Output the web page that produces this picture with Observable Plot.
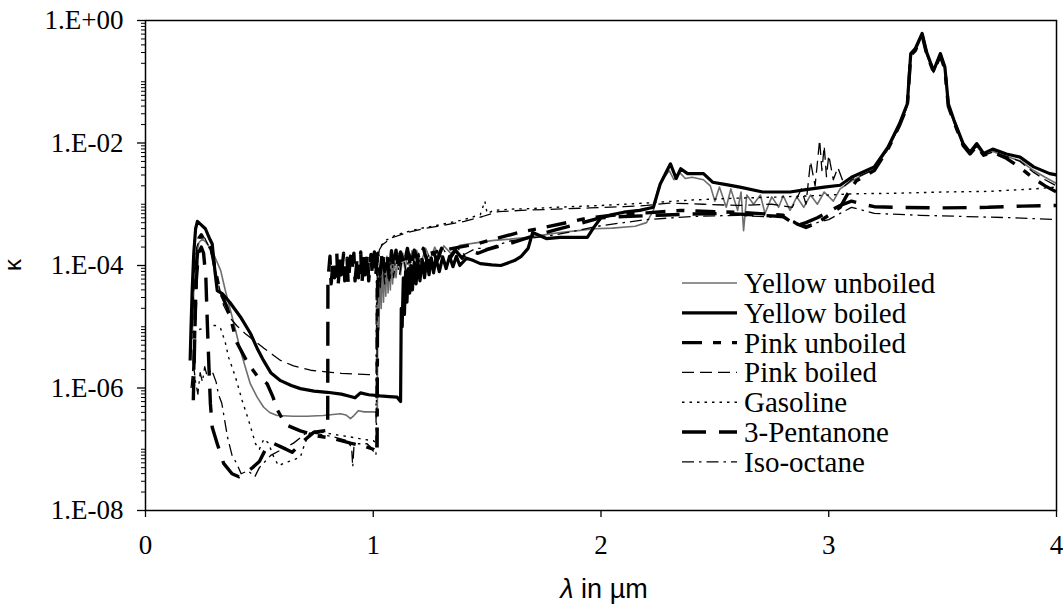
<!DOCTYPE html>
<html>
<head>
<meta charset="utf-8">
<script src="https://cdn.jsdelivr.net/npm/d3@7"></script>
<script src="https://cdn.jsdelivr.net/npm/@observablehq/plot@0.6"></script>
<style>
  body { margin: 0; background: #fff; }
  #chart { width: 1063px; height: 607px; }
</style>
</head>
<body>
<div id="chart"></div>
<script>
// Absorption index κ versus wavelength λ (µm); each pair is [λ, log10 κ].
const yellowUnboiled = [
  [0.205,-5.2],[0.212,-4.4],[0.222,-3.85],[0.235,-3.62],[0.25,-3.57],[0.265,-3.62],[0.285,-3.72],[0.30,-3.82],
  [0.33,-4.08],[0.35,-4.4],[0.373,-4.73],[0.395,-5.05],[0.417,-5.39],[0.44,-5.68],[0.46,-5.93],[0.49,-6.15],
  [0.518,-6.31],[0.545,-6.4],[0.578,-6.45],[0.65,-6.46],[0.71,-6.46],[0.78,-6.45],[0.856,-6.42],[0.88,-6.44],
  [0.90,-6.50],[0.915,-6.45],[0.935,-6.37],[0.96,-6.39],[1.0,-6.39],[1.018,-6.40],
  [1.02,-4.5],[1.025,-5.05],[1.03,-4.0],[1.035,-4.7],[1.04,-3.9],[1.045,-4.6],[1.05,-3.95],[1.055,-4.5],
  [1.06,-3.85],[1.065,-4.45],[1.07,-3.9],[1.075,-4.4],[1.08,-3.8],[1.085,-4.3],[1.09,-3.85],[1.10,-4.2],
  [1.11,-3.8],[1.12,-4.15],[1.13,-3.8],[1.14,-4.1],[1.15,-3.78],[1.16,-4.05],[1.17,-3.76],[1.18,-4.0],
  [1.19,-3.75],[1.21,-3.95],[1.23,-3.72],[1.25,-3.9],[1.27,-3.7],[1.29,-3.86],[1.31,-3.68],[1.34,-3.8],
  [1.38,-3.67],[1.45,-3.63],[1.53,-3.59],[1.6,-3.57],
  [1.68,-3.54],[1.75,-3.5],[1.82,-3.46],[1.9,-3.43],[1.97,-3.40],[2.05,-3.39],[2.15,-3.36],[2.2,-3.3],
  [2.23,-3.1],[2.25,-2.75],[2.28,-2.55],[2.3,-2.45],[2.32,-2.6],[2.345,-2.48],[2.37,-2.58],[2.4,-2.56],
  [2.45,-2.6],[2.48,-2.7],[2.5,-2.95],[2.52,-2.72],[2.55,-3.05],[2.57,-2.75],[2.6,-3.1],[2.615,-2.8],
  [2.626,-3.43],[2.64,-2.85],[2.67,-3.0],[2.7,-2.85],[2.72,-3.15],[2.75,-2.88],[2.78,-3.05],[2.8,-2.86],
  [2.83,-3.1],[2.86,-2.88],[2.89,-3.05],[2.92,-2.85],[2.95,-3.0],[2.98,-2.8],[3.02,-2.95],[3.05,-2.75],
  [3.1,-2.62],[3.15,-2.52],[3.2,-2.43],[3.26,-2.1],[3.31,-1.72],[3.345,-1.4],[3.36,-0.58],[3.38,-0.5],
  [3.41,-0.25],[3.43,-0.56],[3.46,-0.85],[3.49,-0.58],[3.51,-0.8],[3.525,-1.4],[3.55,-1.66],[3.59,-2.04],
  [3.62,-2.18],[3.65,-2.05],[3.68,-2.21],[3.72,-2.14],[3.78,-2.22],[3.84,-2.29],[3.9,-2.45],[3.95,-2.56],[4.0,-2.66]
];

const yellowBoiled = [
  [0.196,-5.55],[0.2,-5.0],[0.205,-4.4],[0.212,-3.8],[0.22,-3.4],[0.228,-3.28],[0.24,-3.32],[0.263,-3.40],
  [0.28,-3.55],[0.293,-3.65],[0.305,-4.1],[0.315,-4.41],[0.337,-4.46],[0.37,-4.6],[0.417,-4.84],[0.461,-5.11],
  [0.49,-5.35],[0.518,-5.55],[0.55,-5.75],[0.593,-5.88],[0.64,-5.96],[0.68,-6.01],[0.74,-6.05],[0.798,-6.07],
  [0.86,-6.1],[0.90,-6.14],[0.92,-6.16],[0.944,-6.08],[0.98,-6.11],[1.03,-6.13],[1.07,-6.14],[1.105,-6.15],[1.12,-6.22],
  [1.123,-4.7],[1.127,-5.0],[1.132,-4.2],[1.137,-4.8],[1.142,-4.1],[1.148,-4.6],[1.154,-4.05],[1.16,-4.45],
  [1.166,-4.0],[1.172,-4.4],[1.18,-3.95],[1.188,-4.3],[1.196,-3.92],[1.205,-4.25],[1.215,-3.9],[1.225,-4.2],
  [1.235,-3.9],[1.245,-4.15],[1.255,-3.88],[1.265,-4.12],[1.275,-3.88],[1.29,-4.1],[1.305,-3.86],[1.32,-4.05],
  [1.335,-3.85],[1.35,-4.02],[1.365,-3.85],[1.38,-4.0],[1.41,-3.88],[1.44,-3.92],[1.47,-3.97],[1.52,-3.99],
  [1.56,-4.0],[1.62,-3.92],[1.65,-3.85],[1.68,-3.72],[1.70,-3.46],[1.73,-3.51],[1.76,-3.56],[1.82,-3.54],
  [1.88,-3.54],[1.94,-3.54],
  [1.97,-3.37],[2.0,-3.22],[2.05,-3.17],[2.10,-3.13],[2.17,-3.1],[2.23,-3.05],[2.26,-2.67],[2.305,-2.34],
  [2.33,-2.58],[2.35,-2.42],[2.38,-2.5],[2.45,-2.5],[2.49,-2.64],[2.55,-2.68],[2.61,-2.72],[2.71,-2.80],
  [2.83,-2.80],[2.9,-2.76],[2.98,-2.72],[3.05,-2.69],[3.10,-2.56],[3.20,-2.39],[3.26,-2.07],[3.31,-1.69],
  [3.345,-1.36],[3.36,-0.54],[3.38,-0.46],[3.41,-0.21],[3.43,-0.52],[3.46,-0.82],[3.49,-0.54],[3.51,-0.76],
  [3.525,-1.36],[3.55,-1.63],[3.59,-2.01],[3.62,-2.15],[3.65,-2.01],[3.68,-2.17],[3.72,-2.10],[3.78,-2.18],
  [3.84,-2.23],[3.90,-2.39],[3.97,-2.50],[4.0,-2.52]
];

const pinkUnboiled = [
  [0.212,-5.7],[0.218,-4.8],[0.226,-3.9],[0.235,-3.55],[0.245,-3.5],[0.26,-3.6],[0.275,-3.65],[0.29,-3.75],
  [0.305,-4.05],[0.325,-4.4],[0.358,-4.68],[0.38,-4.95],[0.40,-5.25],[0.45,-5.6],[0.49,-5.8],[0.534,-5.93],
  [0.56,-6.15],[0.578,-6.35],[0.60,-6.5],[0.622,-6.61],[0.68,-6.7],[0.75,-6.78],[0.82,-6.82],[0.9,-6.9],
  [0.96,-6.95],[1.0,-7.0],[1.017,-7.07],
  [1.019,-4.3],[1.04,-4.05],[1.08,-3.95],[1.15,-3.88],[1.25,-3.8],[1.35,-3.72],[1.45,-3.65],[1.55,-3.55],
  [1.65,-3.45],[1.75,-3.38],[1.85,-3.3],[1.95,-3.22],[2.05,-3.18],[2.2,-3.14],[2.35,-3.1],[2.5,-3.12],
  [2.65,-3.14],[2.8,-3.18],[2.86,-3.32],[2.9,-3.38],[2.95,-3.3],[3.0,-3.18],[3.05,-3.05],[3.08,-2.85],
  [3.12,-2.62],[3.2,-2.45],[3.26,-2.1],[3.31,-1.72],[3.345,-1.4],[3.36,-0.57],[3.38,-0.49],[3.41,-0.24],
  [3.43,-0.55],[3.46,-0.84],[3.49,-0.57],[3.51,-0.8],[3.525,-1.4],[3.55,-1.66],[3.59,-2.04],[3.62,-2.18],
  [3.65,-2.05],[3.68,-2.2],[3.72,-2.15],[3.78,-2.25],[3.84,-2.4],[3.9,-2.58],[3.95,-2.7],[4.0,-2.8]
];

const pinkBoiled = [
  [0.205,-5.0],[0.215,-4.1],[0.225,-3.7],[0.24,-3.55],[0.26,-3.55],[0.28,-3.7],[0.30,-3.95],[0.32,-4.3],
  [0.343,-4.65],[0.37,-4.85],[0.40,-4.98],[0.44,-5.12],[0.476,-5.22],[0.52,-5.35],[0.56,-5.46],[0.593,-5.55],
  [0.65,-5.64],[0.725,-5.71],[0.80,-5.74],[0.86,-5.76],[0.915,-5.77],[0.98,-5.78],[1.016,-5.78],
  [1.018,-3.8],[1.04,-3.66],[1.08,-3.55],[1.15,-3.46],[1.22,-3.4],[1.3,-3.35],[1.4,-3.28],[1.48,-3.2],
  [1.55,-3.12],[1.65,-3.1],[1.8,-3.08],[1.95,-3.06],[2.1,-3.04],[2.2,-3.02],[2.3,-2.98],[2.45,-3.0],
  [2.6,-3.02],[2.75,-3.0],[2.84,-3.05],[2.88,-2.75],[2.9,-3.0],[2.92,-2.3],[2.94,-2.7],[2.96,-1.95],
  [2.97,-2.45],[2.98,-2.05],[2.99,-2.55],[3.0,-2.2],[3.02,-2.6],[3.04,-2.4],[3.07,-2.7],[3.1,-2.6],
  [3.2,-2.43],[3.26,-2.1],[3.31,-1.72],[3.345,-1.4],[3.36,-0.57],[3.38,-0.49],[3.41,-0.24],[3.43,-0.55],
  [3.46,-0.84],[3.49,-0.57],[3.51,-0.8],[3.525,-1.4],[3.55,-1.66],[3.59,-2.04],[3.62,-2.18],[3.65,-2.05],
  [3.68,-2.2],[3.72,-2.15],[3.78,-2.22],[3.84,-2.3],[3.9,-2.48],[3.95,-2.6],[4.0,-2.7]
];

const gasoline = [
  [0.205,-5.09],[0.23,-5.05],[0.26,-5.02],[0.29,-4.98],[0.307,-4.98],[0.33,-5.03],[0.35,-5.25],[0.365,-5.5],
  [0.395,-5.82],[0.424,-6.2],[0.453,-6.53],[0.483,-6.91],[0.50,-7.0],[0.52,-6.83],[0.54,-6.9],[0.56,-7.1],
  [0.584,-7.27],[0.607,-7.23],[0.644,-7.18],[0.68,-7.13],[0.70,-6.9],[0.725,-6.70],[0.77,-6.72],[0.83,-6.76],
  [0.9,-6.8],[0.96,-6.84],[1.0,-6.86],[1.014,-6.9],
  [1.015,-3.95],[1.03,-3.7],[1.05,-3.6],[1.1,-3.5],[1.2,-3.4],[1.3,-3.33],[1.4,-3.25],[1.47,-3.17],
  [1.49,-2.95],[1.5,-3.15],[1.53,-3.1],[1.6,-3.08],[1.7,-3.07],[1.8,-3.05],[2.0,-3.02],[2.2,-2.98],
  [2.4,-2.93],[2.6,-2.9],[2.8,-2.88],[3.0,-2.85],[3.1,-2.83],[3.3,-2.82],[3.5,-2.8],[3.7,-2.79],
  [3.9,-2.75],[4.0,-2.72]
];

const pentanone = [
  [0.21,-6.2],[0.216,-5.2],[0.222,-4.3],[0.232,-3.8],[0.245,-3.7],[0.255,-3.8],[0.265,-4.2],[0.272,-5.0],
  [0.28,-5.8],[0.285,-6.26],[0.293,-6.64],[0.315,-6.91],[0.343,-7.23],[0.38,-7.4],[0.41,-7.45],[0.44,-7.38],
  [0.47,-7.3],[0.5,-7.2],[0.53,-6.98],[0.56,-6.9],[0.6,-6.97],[0.644,-7.05],[0.695,-6.86],[0.74,-6.72],
  [0.78,-6.7],[0.8,-6.69],
  [0.801,-4.25],[0.81,-3.85],[0.815,-4.3],[0.825,-3.9],[0.83,-4.2],[0.84,-3.8],[0.845,-4.35],[0.855,-3.9],
  [0.86,-4.15],[0.87,-3.8],[0.875,-4.25],[0.885,-3.88],[0.89,-4.3],[0.9,-3.85],[0.905,-4.1],[0.915,-3.8],
  [0.92,-4.25],[0.93,-3.85],[0.935,-4.2],[0.945,-3.78],[0.95,-4.3],[0.96,-3.85],[0.965,-4.15],[0.975,-3.8],
  [0.98,-4.25],[0.99,-3.82],[0.995,-4.1],[1.005,-3.78],[1.01,-4.2],[1.02,-3.8],[1.03,-4.15],[1.04,-3.75],
  [1.05,-4.1],[1.06,-3.8],[1.07,-4.2],[1.08,-3.76],[1.09,-4.05],[1.1,-3.75],[1.11,-4.1],[1.12,-3.78],
  [1.135,-4.0],[1.15,-3.72],[1.165,-4.05],[1.18,-3.75],[1.2,-3.95],[1.22,-3.72],[1.24,-3.98],[1.26,-3.74],
  [1.28,-3.92],[1.3,-3.72],[1.33,-3.9],[1.36,-3.75],[1.39,-3.88],[1.42,-3.76],[1.46,-3.8],[1.5,-3.74],
  [1.6,-3.64],[1.7,-3.52],[1.8,-3.42],[1.9,-3.32],[2.0,-3.22],
  [2.1,-3.2],[2.25,-3.18],[2.4,-3.16],[2.55,-3.15],[2.7,-3.18],[2.8,-3.2],[2.86,-3.35],[2.9,-3.3],
  [2.95,-3.22],[3.0,-3.12],[3.05,-3.02],[3.1,-2.95],[3.15,-3.0],[3.2,-3.04],[3.3,-3.05],[3.5,-3.06],
  [3.7,-3.05],[3.85,-3.03],[4.0,-3.02]
];

const isoOctane = [
  [0.2,-6.0],[0.21,-5.6],[0.22,-5.9],[0.23,-6.1],[0.24,-5.75],[0.25,-5.9],[0.26,-5.65],[0.27,-5.8],
  [0.29,-5.7],[0.31,-5.9],[0.32,-6.1],[0.335,-6.25],[0.36,-6.8],[0.38,-7.1],[0.40,-7.23],[0.42,-7.4],
  [0.45,-7.35],[0.48,-7.45],[0.5,-7.3],[0.55,-7.1],[0.6,-7.0],[0.65,-6.9],[0.71,-6.72],[0.76,-6.75],
  [0.826,-6.8],[0.885,-6.86],[0.905,-6.97],[0.91,-7.29],[0.915,-6.97],[0.93,-6.91],[0.973,-6.91],
  [0.99,-6.97],[1.012,-7.1],
  [1.013,-4.3],[1.02,-3.9],[1.03,-4.4],[1.04,-3.85],[1.05,-4.3],[1.06,-3.9],[1.07,-4.25],[1.08,-3.85],
  [1.09,-4.2],[1.1,-3.82],[1.115,-4.15],[1.13,-3.85],[1.145,-4.1],[1.16,-3.8],[1.18,-4.05],[1.2,-3.8],
  [1.22,-4.0],[1.25,-3.78],[1.28,-3.95],[1.31,-3.75],[1.34,-3.9],[1.37,-3.72],[1.4,-3.82],[1.45,-3.72],
  [1.5,-3.72],[1.6,-3.6],[1.8,-3.5],[2.0,-3.35],[2.2,-3.25],[2.4,-3.2],[2.6,-3.18],[2.8,-3.22],
  [2.9,-3.35],[3.0,-3.25],[3.05,-3.15],[3.1,-3.05],[3.2,-3.15],[3.4,-3.18],[3.6,-3.2],[3.8,-3.22],[4.0,-3.25]
];

const seriesNames = ["Yellow unboiled", "Yellow boiled", "Pink unboiled", "Pink boiled", "Gasoline", "3-Pentanone", "Iso-octane"];
const seriesPoints = [yellowUnboiled, yellowBoiled, pinkUnboiled, pinkBoiled, gasoline, pentanone, isoOctane];

const xTicks = [0, 1, 2, 3, 4];
const yMajorTicks = [1e-8, 1e-6, 1e-4, 1e-2, 1];

// Line appearance for each series, in legend order
const lineStyles = [
  {stroke: "#6e6e6e", strokeWidth: 1.6, strokeDasharray: null},
  {stroke: "#000", strokeWidth: 3.2, strokeDasharray: null},
  {stroke: "#000", strokeWidth: 3.4, strokeDasharray: "20,11,8,11"},
  {stroke: "#000", strokeWidth: 1.3, strokeDasharray: "12,6"},
  {stroke: "#000", strokeWidth: 1.4, strokeDasharray: "2.5,5"},
  {stroke: "#000", strokeWidth: 3.4, strokeDasharray: "24,13"},
  {stroke: "#000", strokeWidth: 1.3, strokeDasharray: "12,5,2.5,5"}
];

// minor ticks of the logarithmic κ axis
const yMinorTicks = [];
for (let e = -8; e < 0; e++) for (let m = 2; m <= 9; m++) yMinorTicks.push(m * 10 ** e);
for (let e = -7; e < 0; e += 2) yMinorTicks.push(10 ** e);

const rows = seriesNames.flatMap((name, i) =>
  seriesPoints[i].map(([w, lk]) => ({series: name, wavelength: w, kappa: 10 ** lk}))
);

const excelExp = (d) => {
  const e = Math.round(Math.log10(d));
  return "1.E" + (e < 0 ? "-" : "+") + String(Math.abs(e)).padStart(2, "0");
};

const serif = "'Liberation Serif', 'Times New Roman', serif";
const sans = "'Liberation Sans', Arial, sans-serif";

const lineMarks = seriesNames.map((name, i) =>
  Plot.line(rows.filter((d) => d.series === name), {
    x: "wavelength",
    y: "kappa",
    stroke: lineStyles[i].stroke,
    strokeWidth: lineStyles[i].strokeWidth,
    strokeDasharray: lineStyles[i].strokeDasharray ?? undefined,
    strokeLinecap: "butt",
    strokeLinejoin: "round"
  })
);

const chart = Plot.plot({
  width: 1063,
  height: 607,
  marginLeft: 145,
  marginRight: 7,
  marginTop: 20,
  marginBottom: 97,
  style: {fontFamily: serif, fontSize: "27px", background: "#fff", color: "#000"},
  x: {domain: [0, 4]},
  y: {type: "log", domain: [1e-8, 1]},
  marks: [
    Plot.axisX({ticks: xTicks, tickSize: 7, tickPadding: 17, tickFormat: (d) => String(d), label: null, fontSize: 27, strokeWidth: 1.3}),
    Plot.axisY({ticks: yMajorTicks, tickSize: 8, tickPadding: 14, tickFormat: excelExp, label: null, fontSize: 27, strokeWidth: 1.3}),
    Plot.axisY({ticks: yMinorTicks, tickSize: 4, tickFormat: () => "", label: null, strokeWidth: 1}),
    ...lineMarks,
    Plot.frame({stroke: "#000", strokeWidth: 1.5})
  ]
});

const svg = d3.select(chart);

// axis titles
const xTitle = svg.append("text")
  .attr("x", 604).attr("y", 598)
  .attr("text-anchor", "middle")
  .attr("font-family", sans).attr("font-size", 27).attr("fill", "#000");
xTitle.append("tspan").attr("font-style", "italic").text("λ");
xTitle.append("tspan").text(" in µm");

svg.append("text")
  .attr("transform", "translate(21,265) rotate(-90)")
  .attr("text-anchor", "middle")
  .attr("font-family", sans).attr("font-size", 24).attr("fill", "#000")
  .text("κ");

// legend
const legend = svg.append("g")
  .attr("font-family", serif).attr("font-size", 29).attr("text-anchor", "start");
seriesNames.forEach((name, i) => {
  const base = 293 + i * 29.8;
  const s = lineStyles[i];
  legend.append("line")
    .attr("x1", 682).attr("x2", 737).attr("y1", base - 10).attr("y2", base - 10)
    .attr("stroke", s.stroke).attr("stroke-width", s.strokeWidth)
    .attr("stroke-dasharray", s.strokeDasharray);
  legend.append("text").attr("x", 744).attr("y", base).attr("fill", "#000").text(name);
});

document.getElementById("chart").append(chart);
</script>
</body>
</html>
